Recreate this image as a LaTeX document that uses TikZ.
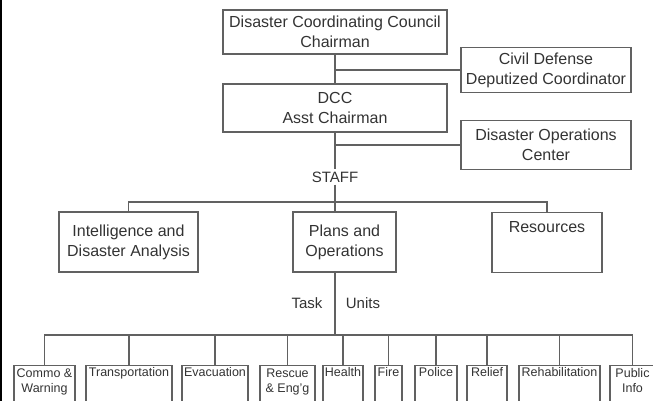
\documentclass[tikz,border=0pt]{standalone}
\usepackage{fontspec}
\setmainfont{Liberation Sans}
\definecolor{linegray}{gray}{0.38}
\definecolor{txtgray}{gray}{0.2}
\tikzset{
  box/.style={draw=linegray, line width=1.1pt, text=txtgray, align=center,
    inner sep=1pt, font=\fontsize{16}{20}\selectfont},
  unitbox/.style={box, anchor=north, font=\fontsize{12.5}{15}\selectfont,
    text height=9pt, text depth=40pt, inner ysep=2pt},
  twoline/.style={text height=25pt, text depth=24pt},
  link/.style={draw=linegray, line width=1.1pt}
}

\begin{document}
\begin{tikzpicture}[x=1pt,y=-1pt]
\useasboundingbox (0,0) rectangle (653,401);
\clip (0,0) rectangle (653,401);
\draw[line width=1.5pt] (0.75,0) -- (0.75,401);

% command line
\node[box, minimum width=224pt, minimum height=44pt] (council) at (335,32) {Disaster Coordinating Council\\Chairman};
\node[box, minimum width=224pt, minimum height=48pt] (asst) at (335,108) {DCC\\Asst Chairman};
\node[box, minimum width=170pt, minimum height=45pt] (civdef) at (546,70) {Civil Defense\\Deputized Coordinator};
\node[box, minimum width=170pt, minimum height=49pt] (opscen) at (546,145) {Disaster Operations\\Center};
\node[text=txtgray, font=\fontsize{15}{18}\selectfont, inner sep=2pt] (staff) at (335,177) {STAFF};

\draw[link] (council.south) -- (asst.north);
\draw[link] (asst.south) -- (staff.north);
\draw[link] (civdef.west) -- (civdef.west -| council.south);
\draw[link] (opscen.west) -- (opscen.west -| asst.south);

% staff
\node[box, minimum width=139pt, minimum height=60pt] (intel) at (128.5,242) {Intelligence and\\Disaster Analysis};
\node[box, minimum width=103pt, minimum height=60pt] (plans) at (344.5,242) {Plans and\\Operations};
\node[box, anchor=north, minimum width=110pt, text height=12pt, text depth=32pt, inner ysep=8pt] (res) at (547,212) {Resources};

\coordinate (bus) at (335,202);
\draw[link] (intel.north) |- (bus) -| (res.north);
\draw[link] (staff.south) -- (staff.south |- plans.north);

% task units
\node[text=txtgray, font=\fontsize{15}{18}\selectfont] (task) at (307,303) {Task};
\node[text=txtgray, font=\fontsize{15}{18}\selectfont] (units) at (363,303) {Units};

\node[unitbox, twoline, minimum width=61pt] (commo) at (44.5,365) {Commo \&\\Warning};
\node[unitbox, minimum width=86pt] (transp) at (129,365) {Transportation};
\node[unitbox, minimum width=66pt] (evac) at (215,365) {Evacuation};
\node[unitbox, twoline, minimum width=55pt] (rescue) at (287.5,365) {Rescue\\\& Eng'g};
\node[unitbox, minimum width=40pt] (health) at (343,365) {Health};
\node[unitbox, minimum width=27pt] (fire) at (388.5,365) {Fire};
\node[unitbox, minimum width=42pt] (police) at (436,365) {Police};
\node[unitbox, minimum width=40pt] (relief) at (487,365) {Relief};
\node[unitbox, minimum width=81pt] (rehab) at (559.5,365) {Rehabilitation};
\node[unitbox, twoline, minimum width=45pt] (pubinfo) at (632.5,365) {Public\\Info};

\coordinate (tbus) at (335,335);
\draw[link] (plans.south -| tbus) -- (tbus);
\draw[link] (commo.north) |- (tbus) -| (pubinfo.north);
\foreach \n in {transp,evac,rescue,health,fire,police,relief,rehab}
  \draw[link] (\n.north) -- (\n.north |- tbus);
\end{tikzpicture}
\end{document}
